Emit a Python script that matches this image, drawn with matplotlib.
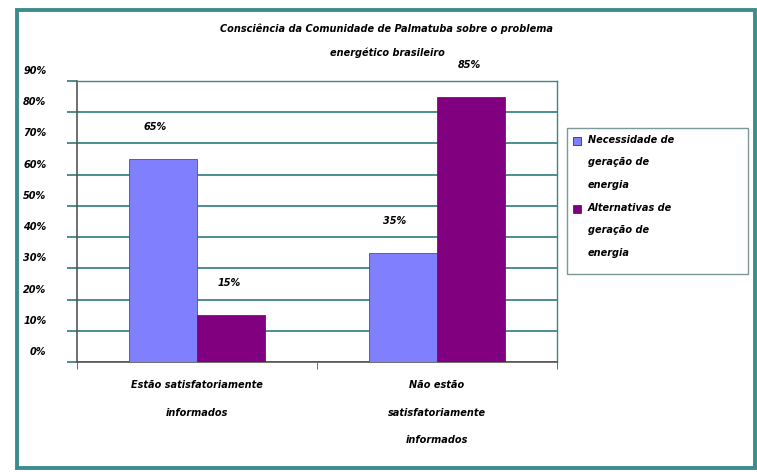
"""Consciência da Comunidade de Palmatuba - bar chart recreation."""

import matplotlib

matplotlib.use("Agg")
import matplotlib.pyplot as plt
from matplotlib.patches import Rectangle
from matplotlib.transforms import ScaledTranslation

CATEGORIES = ["Estão satisfatoriamente\ninformados", "Não estão\nsatisfatoriamente\ninformados"]
SERIES = ["Necessidade de\ngeração de\nenergia", "Alternativas de\ngeração de\nenergia"]
NECESSIDADE = [0.65, 0.35]
ALTERNATIVAS = [0.15, 0.85]
Y_TICKS = [0.0, 0.1, 0.2, 0.3, 0.4, 0.5, 0.6, 0.7, 0.8, 0.9]
Y_LABELS = ["0%", "10%", "20%", "30%", "40%", "50%", "60%", "70%", "80%", "90%"]
TITLE = "Consciência da Comunidade de Palmatuba sobre o problema\nenergético brasileiro"

BLUE = "#8080FF"
PURPLE = "#800080"
GRID = "#3f8585"
BORDER = "#3d8c8c"
FONT = dict(family="DejaVu Sans", style="italic", weight="bold", size=7)

W, H = 757, 472
fig = plt.figure(figsize=(W / 100, H / 100), dpi=100)


def px(x, y):
    return x / W, 1 - y / H


# outer teal frame
fig.patches.append(Rectangle(px(17, 468), (755 - 17) / W, (468 - 10) / H,
                             transform=fig.transFigure, fill=False,
                             edgecolor=BORDER, linewidth=2.8))

l, b = px(77, 362)
r, t = px(557, 81)
ax = fig.add_axes([l, b, r - l, t - b])

width = 0.283
xs = range(len(CATEGORIES))
b1 = ax.bar([x - width / 2 for x in xs], NECESSIDADE, width, color=BLUE,
            edgecolor="#4a4aa0", linewidth=0.6, zorder=3)
b2 = ax.bar([x + width / 2 for x in xs], ALTERNATIVAS, width, color=PURPLE,
            edgecolor="#4a2a6a", linewidth=0.6, zorder=3)

for bars, vals, dx in ((b1, NECESSIDADE, -8), (b2, ALTERNATIVAS, -2)):
    for bar, v in zip(bars, vals):
        ax.annotate(f"{round(v * 100)}%", (bar.get_x() + bar.get_width() / 2, v),
                    xytext=(dx, 27), textcoords="offset pixels",
                    ha="center", va="bottom", **FONT)

ax.set_xlim(-0.5, 1.5)
ax.set_ylim(0, 0.9)
ax.set_yticks(Y_TICKS)
ax.set_yticklabels(Y_LABELS, **FONT)
ax.yaxis.grid(True, color=GRID, linewidth=1.3, zorder=0)
ax.tick_params(axis="y", length=7, width=1.3, color=GRID, pad=15)
shift = ScaledTranslation(0, 11 / 100, fig.dpi_scale_trans)
for lab in ax.get_yticklabels():
    lab.set_transform(lab.get_transform() + shift)

ax.set_xticks(list(xs))
ax.set_xticklabels(CATEGORIES, linespacing=3.2, va="top", **FONT)
ax.tick_params(axis="x", length=0, pad=13)
ax.set_xticks([-0.5, 0.5, 1.5], minor=True)
ax.tick_params(axis="x", which="minor", length=5, color="#555555")

for side in ("left", "bottom"):
    ax.spines[side].set_color("#555555")
    ax.spines[side].set_linewidth(1.2)
for side in ("top", "right"):
    ax.spines[side].set_color(GRID)
    ax.spines[side].set_linewidth(1.0)

fig.text(*px(387, 23), TITLE, ha="center", va="top", linespacing=2.6, **FONT)

# legend box
fig.patches.append(Rectangle(px(567, 274), (748 - 567) / W, (274 - 128) / H,
                             transform=fig.transFigure, fill=False,
                             edgecolor="#7a9a9a", linewidth=1.0))
for label, color, yc in zip(SERIES, (BLUE, PURPLE), (141, 209)):
    fig.patches.append(Rectangle(px(573, yc + 4), 8 / W, 8 / H,
                                 transform=fig.transFigure, facecolor=color,
                                 edgecolor="#333355", linewidth=0.6))
    fig.text(*px(588, yc - 6), label, ha="left", va="top", linespacing=2.55, **FONT)

fig.savefig("out.png", dpi=100)
